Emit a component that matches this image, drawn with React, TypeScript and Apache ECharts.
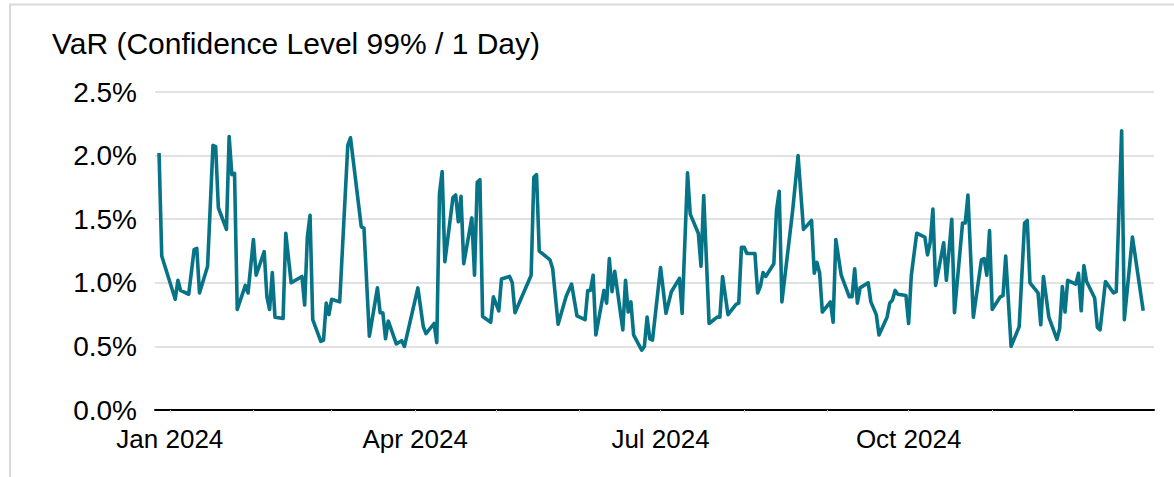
import React, { useEffect, useRef } from "react";
import * as echarts from "echarts";

const chartTitle = "VaR (Confidence Level 99% / 1 Day)";

const dates: string[] = [
  "2023-12-28", "2023-12-29", "2024-01-03", "2024-01-04", "2024-01-05", "2024-01-08", "2024-01-10", "2024-01-11",
  "2024-01-12", "2024-01-15", "2024-01-17", "2024-01-18", "2024-01-19", "2024-01-22", "2024-01-23", "2024-01-24",
  "2024-01-25", "2024-01-26", "2024-01-29", "2024-01-30", "2024-02-01", "2024-02-02", "2024-02-05", "2024-02-06",
  "2024-02-07", "2024-02-08", "2024-02-09", "2024-02-12", "2024-02-13", "2024-02-15", "2024-02-19", "2024-02-20",
  "2024-02-21", "2024-02-22", "2024-02-23", "2024-02-26", "2024-02-27", "2024-02-28", "2024-02-29", "2024-03-01",
  "2024-03-04", "2024-03-07", "2024-03-08", "2024-03-12", "2024-03-13", "2024-03-15", "2024-03-18", "2024-03-19",
  "2024-03-20", "2024-03-21", "2024-03-22", "2024-03-25", "2024-03-27", "2024-03-28", "2024-04-02", "2024-04-04",
  "2024-04-05", "2024-04-08", "2024-04-09", "2024-04-10", "2024-04-11", "2024-04-12", "2024-04-15", "2024-04-16",
  "2024-04-17", "2024-04-18", "2024-04-19", "2024-04-22", "2024-04-23", "2024-04-24", "2024-04-25", "2024-04-26",
  "2024-04-29", "2024-04-30", "2024-05-02", "2024-05-03", "2024-05-06", "2024-05-07", "2024-05-08", "2024-05-14",
  "2024-05-15", "2024-05-16", "2024-05-17", "2024-05-21", "2024-05-22", "2024-05-24", "2024-05-27", "2024-05-29",
  "2024-05-31", "2024-06-03", "2024-06-04", "2024-06-05", "2024-06-06", "2024-06-07", "2024-06-10", "2024-06-11",
  "2024-06-12", "2024-06-13", "2024-06-14", "2024-06-17", "2024-06-18", "2024-06-19", "2024-06-20", "2024-06-21",
  "2024-06-24", "2024-06-25", "2024-06-26", "2024-06-27", "2024-06-28", "2024-07-01", "2024-07-03", "2024-07-05",
  "2024-07-08", "2024-07-09", "2024-07-11", "2024-07-12", "2024-07-15", "2024-07-16", "2024-07-17", "2024-07-19",
  "2024-07-22", "2024-07-23", "2024-07-24", "2024-07-26", "2024-07-29", "2024-07-30", "2024-07-31", "2024-08-01",
  "2024-08-02", "2024-08-05", "2024-08-06", "2024-08-07", "2024-08-08", "2024-08-09", "2024-08-12", "2024-08-13",
  "2024-08-14", "2024-08-15", "2024-08-19", "2024-08-21", "2024-08-23", "2024-08-26", "2024-08-27", "2024-08-28",
  "2024-08-29", "2024-08-30", "2024-09-02", "2024-09-03", "2024-09-04", "2024-09-06", "2024-09-09", "2024-09-10",
  "2024-09-11", "2024-09-12", "2024-09-13", "2024-09-16", "2024-09-17", "2024-09-19", "2024-09-20", "2024-09-23",
  "2024-09-24", "2024-09-25", "2024-09-26", "2024-09-27", "2024-09-30", "2024-10-01", "2024-10-02", "2024-10-04",
  "2024-10-07", "2024-10-08", "2024-10-09", "2024-10-10", "2024-10-11", "2024-10-14", "2024-10-15", "2024-10-17",
  "2024-10-18", "2024-10-21", "2024-10-22", "2024-10-23", "2024-10-25", "2024-10-28", "2024-10-29", "2024-10-30",
  "2024-10-31", "2024-11-01", "2024-11-04", "2024-11-05", "2024-11-06", "2024-11-08", "2024-11-11", "2024-11-13",
  "2024-11-14", "2024-11-15", "2024-11-18", "2024-11-19", "2024-11-20", "2024-11-22", "2024-11-25", "2024-11-26",
  "2024-11-27", "2024-11-28", "2024-11-29", "2024-12-02", "2024-12-03", "2024-12-04", "2024-12-05", "2024-12-06",
  "2024-12-09", "2024-12-10", "2024-12-11", "2024-12-13", "2024-12-16", "2024-12-17", "2024-12-19", "2024-12-20",
  "2024-12-23", "2024-12-27",
];

const varValues: number[] = [
  2.02, 1.21, 0.87, 1.02, 0.94, 0.91, 1.26, 1.27,
  0.92, 1.13, 2.08, 2.07, 1.59, 1.42, 2.15, 1.85,
  1.86, 0.79, 0.98, 0.92, 1.34, 1.06, 1.245, 0.89,
  0.79, 1.08, 0.73, 0.72, 1.39, 1.0, 1.05, 0.825,
  1.36, 1.53, 0.71, 0.54, 0.55, 0.84, 0.75, 0.87,
  0.85, 2.08, 2.14, 1.44, 1.43, 0.58, 0.96, 0.765,
  0.765, 0.56, 0.7, 0.52, 0.545, 0.5, 0.96, 0.655,
  0.6, 0.68, 0.53, 1.7, 1.875, 1.165, 1.67, 1.69,
  1.48, 1.68, 1.15, 1.51, 1.06, 1.79, 1.81, 0.735,
  0.69, 0.89, 0.78, 1.03, 1.05, 1.0, 0.765, 1.06,
  1.83, 1.85, 1.25, 1.18, 1.11, 0.675, 0.895, 0.99,
  0.74, 0.71, 0.94, 0.94, 1.06, 0.59, 0.94, 0.84,
  1.19, 0.93, 1.09, 0.63, 1.02, 0.77, 0.85, 0.59,
  0.47, 0.5, 0.73, 0.56, 0.55, 1.12, 0.76, 0.93,
  1.035, 0.76, 1.865, 1.54, 1.39, 1.13, 1.685, 0.68,
  0.73, 0.73, 1.05, 0.75, 0.83, 0.84, 1.28, 1.28,
  1.23, 1.23, 0.92, 0.97, 1.08, 1.05, 1.15, 1.57,
  1.72, 0.85, 1.57, 2.0, 1.42, 1.49, 1.075, 1.16,
  1.075, 0.77, 0.85, 0.69, 1.34, 1.06, 0.89, 0.89,
  1.11, 0.84, 0.96, 1.0, 0.85, 0.75, 0.59, 0.73,
  0.84, 0.865, 0.94, 0.91, 0.9, 0.68, 1.06, 1.39,
  1.36, 1.22, 1.32, 1.58, 0.98, 1.315, 1.02, 1.5,
  0.765, 1.47, 1.47, 1.69, 0.73, 1.18, 1.19, 1.06,
  1.41, 0.79, 0.89, 0.9, 1.21, 0.5, 0.655, 1.47,
  1.49, 1.0, 0.92, 0.67, 1.05, 0.73, 0.555, 0.64,
  0.97, 0.77, 1.02, 0.99, 1.075, 0.78, 1.135, 1.01,
  0.88, 0.65, 0.63, 1.01, 0.92, 0.93, 2.195, 0.71,
  1.36, 0.78,
];

const yTicks = { min: 0, max: 2.5, step: 0.5 };
const xRange = { min: "2023-12-26T12:00:00", max: "2024-12-31T00:00:00" };
const monthNames = ["Jan", "Feb", "Mar", "Apr", "May", "Jun", "Jul", "Aug", "Sep", "Oct", "Nov", "Dec"];
const labelledMonths = [0, 3, 6, 9];

const FONT = "'Liberation Sans', Arial, sans-serif";

export default function App() {
  const ref = useRef<HTMLDivElement>(null);
  useEffect(() => {
    if (!ref.current) return;
    const chart = echarts.init(ref.current, null, { renderer: "svg" });
    const seriesData = dates.map((d, i) => [d, varValues[i]]);
    chart.setOption({
      animation: false,
      backgroundColor: "#ffffff",
      textStyle: { fontFamily: FONT },
      title: {
        text: chartTitle,
        left: 47,
        top: 23,
        textStyle: { fontFamily: FONT, fontSize: 30, fontWeight: "normal", color: "#000000" },
      },
      graphic: [
        {
          type: "rect",
          shape: { x: 10, y: 4.5, width: 1300, height: 600 },
          style: { fill: "none", stroke: "#d9d9d9", lineWidth: 2 },
          silent: true,
        },
      ],
      grid: { left: 155, right: 20, top: 92, bottom: 67, containLabel: false },
      xAxis: {
        type: "time",
        min: xRange.min,
        max: xRange.max,
        splitNumber: 12,
        axisLine: { show: true, lineStyle: { color: "#000000", width: 2 } },
        axisTick: { show: true, length: 3, lineStyle: { color: "#d0d0d0", width: 1 } },
        splitLine: { show: false },
        axisLabel: {
          fontFamily: FONT,
          fontSize: 26,
          color: "#000000",
          margin: 16,
          hideOverlap: false,
          formatter: (val: number) => {
            const d = new Date(val);
            const m = d.getMonth();
            if (d.getDate() !== 1 || labelledMonths.indexOf(m) < 0) return "";
            return monthNames[m] + " " + d.getFullYear();
          },
        },
      },
      yAxis: {
        type: "value",
        min: yTicks.min,
        max: yTicks.max,
        interval: yTicks.step,
        axisLine: { show: false },
        axisTick: { show: false },
        splitLine: { show: true, lineStyle: { color: "#d9d9d9", width: 1.5 } },
        axisLabel: {
          fontFamily: FONT,
          fontSize: 28,
          color: "#000000",
          margin: 18,
          formatter: (v: number) => v.toFixed(1) + "%",
        },
      },
      series: [
        {
          type: "line",
          data: seriesData,
          showSymbol: false,
          symbol: "none",
          lineStyle: { color: "#067486", width: 3.6, join: "round" },
          itemStyle: { color: "#067486" },
        },
      ],
    });
    return () => chart.dispose();
  }, []);
  return (
    <div
      ref={ref}
      style={{ position: "fixed", left: 0, top: 0, width: 1174, height: 477, background: "#fff" }}
    />
  );
}
